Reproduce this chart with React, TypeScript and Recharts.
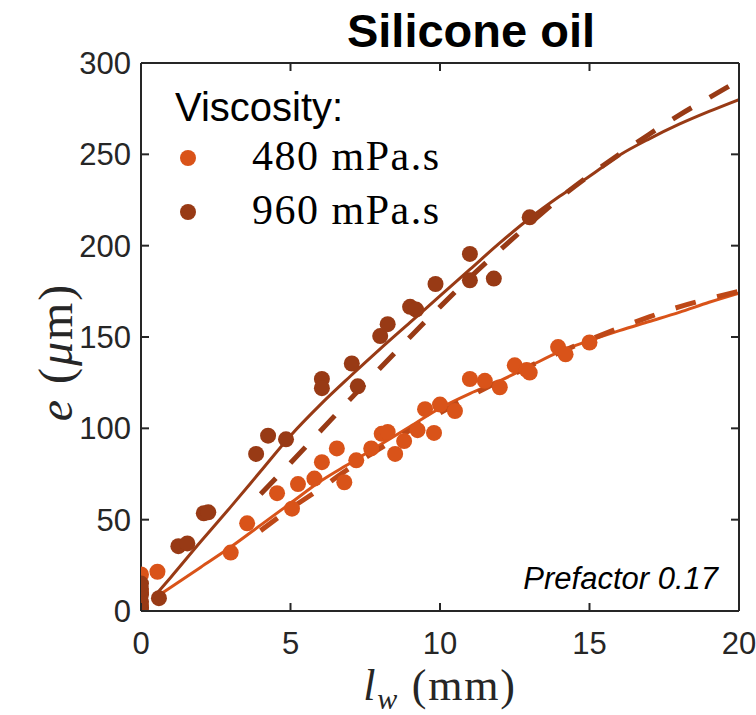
import React from 'react';
import { ComposedChart, Scatter, Line, XAxis, YAxis } from 'recharts';

// measured points, [l_w (mm), e (um)]
const oil480Points: [number, number][] = [
  [0, 3], [0, 10], [0, 20], [0.55, 21.5], [3, 32], [3.55, 48], [4.55, 64.5], [5.05, 56],
  [5.25, 69.5], [5.8, 72.5], [6.05, 81.5], [6.55, 89], [6.8, 70.5], [7.2, 82.5], [7.7, 89],
  [8.05, 97], [8.25, 98], [8.5, 86], [8.8, 93], [9.25, 99], [9.5, 110.5], [9.8, 97.5],
  [10.0, 113], [10.5, 109.5], [11.0, 127], [11.5, 126], [12.0, 122.5], [12.5, 134.5],
  [12.9, 132], [13.0, 130.5], [13.95, 144.5], [14.2, 140.5], [15.0, 147],
];

const oil960Points: [number, number][] = [
  [0, 0], [0, 2], [0, 5], [0, 9], [0, 12], [0, 15], [0.6, 7], [1.25, 35.5], [1.55, 37],
  [2.1, 53.5], [2.25, 54], [3.85, 86], [4.25, 96], [4.85, 94], [6.05, 127], [6.05, 122],
  [7.05, 135.5], [7.25, 123], [8.0, 150.5], [8.25, 157], [9.0, 166.5], [9.2, 165],
  [9.85, 179], [11.0, 195.5], [11.0, 181], [11.8, 182], [13.0, 215.5],
];

// fitted curves
const fitX = [0.5, 1, 2, 3, 4, 5, 6, 7, 8, 9, 10, 11, 12, 13, 14, 15, 16, 17, 18, 19, 20];
const fit480 = [7.5, 13, 24, 35, 47, 59, 71, 81, 91, 101, 111, 119, 126, 134, 142, 148, 153.5, 158.5, 163.5, 169, 174];
const fit960 = [9, 18.5, 38, 57, 76.5, 96, 113, 128.5, 143.5, 158, 172.5, 187, 201.5, 215, 227, 238, 249.5, 258.5, 266.5, 273.5, 280];

// prefactor 0.17 scaling lines
const scaleX = [4, 5, 6, 7, 8, 9, 10, 11, 12, 13, 14, 15, 16, 17, 18, 19, 20];
const scale480 = [44, 56, 67, 78.5, 89, 99, 108.5, 117.5, 126, 134, 141.5, 148.5, 155, 161, 166.5, 171, 175];
const scale960 = [64, 81, 98.5, 116, 133, 150, 166.5, 182.5, 197.5, 212, 226, 238.5, 250, 261, 271.5, 281, 290.5];

const xTicks = [0, 5, 10, 15, 20];
const yTicks = [0, 50, 100, 150, 200, 250, 300];

const ORANGE = '#D95319';
const BROWN = '#983A15';
const ORANGE_DASH = '#BE4817';
const AXIS = '#262626';

const toXY = (pts: [number, number][]) => pts.map(([x, y]) => ({ x, y }));
const zipXY = (xs: number[], ys: number[]) => xs.map((x, i) => ({ x, y: ys[i] }));

const dot = (fill: string) => (props: any) => (
  <circle cx={props.cx} cy={props.cy} r={8} fill={fill} />
);

const tickFont = { fontFamily: 'Liberation Sans, Arial, sans-serif', fontSize: 31, fill: AXIS };

const LeftTick = (props: any) => {
  const { x, y, payload } = props;
  return (
    <g>
      <line x1={x} x2={x + 8} y1={y} y2={y} stroke={AXIS} strokeWidth={2} />
      <text x={x - 10} y={y} dy="0.36em" textAnchor="end" {...tickFont}>{payload.value}</text>
    </g>
  );
};

const BottomTick = (props: any) => {
  const { x, y, payload } = props;
  return (
    <g>
      <line x1={x} x2={x} y1={y} y2={y - 8} stroke={AXIS} strokeWidth={2} />
      <text x={x} y={y + 43} textAnchor="middle" {...tickFont}>{payload.value}</text>
    </g>
  );
};

const TopTick = (props: any) => (
  <line x1={props.x} x2={props.x} y1={props.y} y2={props.y + 8} stroke={AXIS} strokeWidth={2} />
);

const RightTick = (props: any) => (
  <line x1={props.x - 8} x2={props.x} y1={props.y} y2={props.y} stroke={AXIS} strokeWidth={2} />
);

export default function App() {
  const serif = 'Liberation Serif, Times New Roman, serif';
  const sans = 'Liberation Sans, Arial, sans-serif';
  return (
    <div style={{ position: 'absolute', left: 0, top: 0, width: 756, height: 715, background: '#fff' }}>
      <ComposedChart width={756} height={715} margin={{ top: 0, right: 0, bottom: 0, left: 0 }}>
        <XAxis xAxisId="bottom" dataKey="x" type="number" domain={[0, 20]} ticks={xTicks}
          height={104} tickSize={0} tickMargin={0} tickLine={false} tick={<BottomTick />}
          axisLine={{ stroke: AXIS, strokeWidth: 2 }} allowDataOverflow />
        <XAxis xAxisId="top" orientation="top" dataKey="x" type="number" domain={[0, 20]} ticks={xTicks}
          height={63} tickSize={0} tickMargin={0} tickLine={false} tick={<TopTick />}
          axisLine={{ stroke: AXIS, strokeWidth: 2 }} allowDataOverflow />
        <YAxis yAxisId="left" dataKey="y" type="number" domain={[0, 300]} ticks={yTicks}
          width={141} tickSize={0} tickMargin={0} tickLine={false} tick={<LeftTick />}
          axisLine={{ stroke: AXIS, strokeWidth: 2 }} allowDataOverflow />
        <YAxis yAxisId="right" orientation="right" dataKey="y" type="number" domain={[0, 300]} ticks={yTicks}
          width={17} tickSize={0} tickMargin={0} tickLine={false} tick={<RightTick />}
          axisLine={{ stroke: AXIS, strokeWidth: 2 }} allowDataOverflow />

        <Scatter xAxisId="bottom" yAxisId="left" data={toXY(oil480Points)} fill={ORANGE}
          shape={dot(ORANGE)} isAnimationActive={false} />
        <Scatter xAxisId="bottom" yAxisId="left" data={toXY(oil960Points)} fill={BROWN}
          shape={dot(BROWN)} isAnimationActive={false} />

        <Line xAxisId="bottom" yAxisId="left" data={zipXY(fitX, fit480)} dataKey="y" type="monotone"
          stroke={ORANGE} strokeWidth={3} dot={false} activeDot={false} isAnimationActive={false} />
        <Line xAxisId="bottom" yAxisId="left" data={zipXY(fitX, fit960)} dataKey="y" type="monotone"
          stroke={BROWN} strokeWidth={3} dot={false} activeDot={false} isAnimationActive={false} />
        <Line xAxisId="bottom" yAxisId="left" data={zipXY(scaleX, scale480)} dataKey="y" type="monotone"
          stroke={ORANGE_DASH} strokeWidth={5} strokeDasharray="21 22" dot={false} activeDot={false}
          isAnimationActive={false} />
        <Line xAxisId="bottom" yAxisId="left" data={zipXY(scaleX, scale960)} dataKey="y" type="monotone"
          stroke={BROWN} strokeWidth={5} strokeDasharray="22 21" dot={false} activeDot={false}
          isAnimationActive={false} />
      </ComposedChart>

      <svg width={756} height={715} style={{ position: 'absolute', left: 0, top: 0, pointerEvents: 'none' }}>
        <text x={471} y={47} textAnchor="middle" fontFamily={sans} fontWeight="bold" fontSize={47} fill="#000">
          Silicone oil
        </text>
        <text x={175} y={121} fontFamily={sans} fontSize={40} fill="#000">Viscosity:</text>
        <circle cx={188} cy={158} r={8} fill={ORANGE} />
        <circle cx={188} cy={212} r={8} fill={BROWN} />
        <text x={252} y={170} fontFamily={serif} fontSize={42} letterSpacing={1.5} fill="#000">480 mPa.s</text>
        <text x={252} y={224} fontFamily={serif} fontSize={42} letterSpacing={1.5} fill="#000">960 mPa.s</text>
        <text x={718} y={589} textAnchor="end" fontFamily={sans} fontStyle="italic" fontSize={31} fill="#000">
          Prefactor 0.17
        </text>
        <text transform="translate(72, 352) rotate(-90)" textAnchor="middle" fontFamily={serif} fontSize={48}
          letterSpacing={2} fill={AXIS}>
          <tspan fontStyle="italic">e</tspan> (<tspan fontStyle="italic">μ</tspan>m)
        </text>
        <text x={440} y={700} textAnchor="middle" fontFamily={serif} fontSize={44} letterSpacing={1.8} fill={AXIS}>
          <tspan fontStyle="italic">l</tspan>
          <tspan fontStyle="italic" fontSize={30} dy={9}>w</tspan>
          <tspan dy={-9}>   (mm)</tspan>
        </text>
      </svg>
    </div>
  );
}
